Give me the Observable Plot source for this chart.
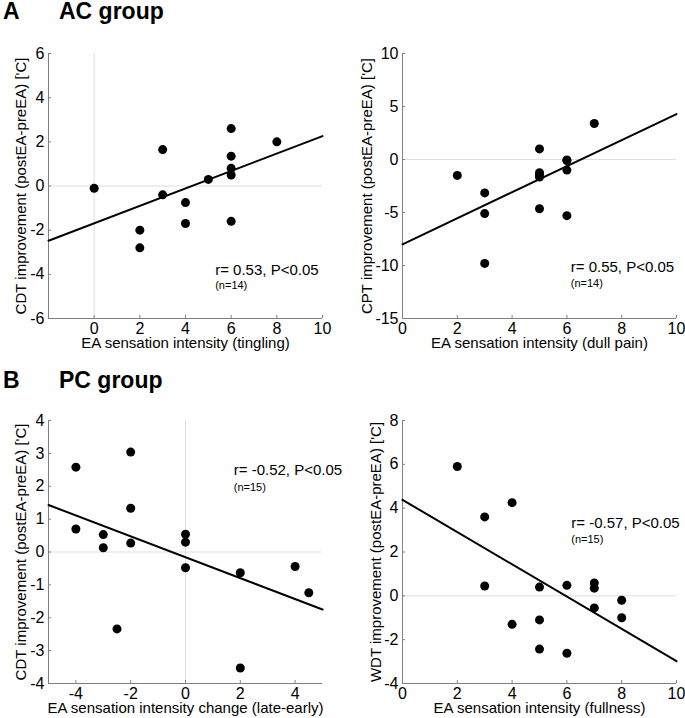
<!DOCTYPE html>
<html><head><meta charset="utf-8">
<script src="https://cdn.jsdelivr.net/npm/d3@7"></script>
<script src="https://cdn.jsdelivr.net/npm/@observablehq/plot@0.6"></script>
<style>
body{margin:0;background:#fff;}
#fig{position:relative;width:685px;height:718px;font-family:"Liberation Sans",Arial,sans-serif;background:#fff;overflow:hidden;}
.panel{position:absolute;}
.hdr{position:absolute;font-weight:bold;font-size:23px;line-height:23px;color:#000;white-space:nowrap;}
</style></head><body><div id="fig"></div>
<script>
// ---- data ----
const groupLetters = ["A", "B"];
const groupNames = ["AC group", "PC group"];

const acTinglingX = [0, 2, 2, 3, 3, 4, 4, 5, 6, 6, 6, 6, 6, 8];
const acTinglingCDT = [-0.1, -2.0, -2.8, 1.65, -0.4, -0.75, -1.7, 0.3, 2.6, 1.35, 0.8, 0.5, -1.6, 2.0];

const acDullPainX = [2, 3, 3, 3, 5, 5, 5, 5, 5, 6, 6, 6, 6, 7];
const acDullPainCPT = [-1.5, -3.15, -5.1, -9.8, 1.0, -1.25, -1.45, -1.65, -4.65, -0.1, -0.05, -1.0, -5.3, 3.4];

const pcChangeX = [-4, -4, -3, -3, -2, -2, -2, -2.5, 0, 0, 0, 2, 2, 4, 4.5];
const pcChangeCDT = [2.58, 0.7, 0.53, 0.13, 3.04, 1.33, 0.27, -2.34, 0.54, 0.3, -0.48, -0.63, -3.53, -0.44, -1.24];

const pcFullnessX = [2, 3, 3, 4, 4, 5, 5, 5, 6, 6, 7, 7, 7, 8, 8];
const pcFullnessWDT = [5.9, 3.6, 0.45, 4.25, -1.3, 0.4, -1.1, -2.43, 0.48, -2.62, 0.59, 0.35, -0.55, -0.2, -1.0];

const fitSlopes = [0.395, 1.228, -0.318, -0.736];
const fitIntercepts = [-1.69, -8.0, -0.16, 4.38];

const statLabels = ["r= 0.53, P<0.05", "r= 0.55, P<0.05", "r= -0.52, P<0.05", "r= -0.57, P<0.05"];
const nLabels = ["(n=14)", "(n=14)", "(n=15)", "(n=15)"];
const statX = [5.3, 6.14, 1.76, 6.16];
const statY = [-4.04, -10.63, 2.33, 3.08];
const nY = [-4.67, -12.05, 1.87, 2.39];

const xLabels = ["EA sensation intensity (tingling)", "EA sensation intensity (dull pain)",
  "EA sensation intensity change (late-early)", "EA sensation intensity (fullness)"];
const yLabels = ["CDT improvement (postEA-preEA) ['C]", "CPT improvement (postEA-preEA) ['C]",
  "CDT improvement (postEA-preEA) ['C]", "WDT improvement (postEA-preEA) ['C]"];

const xDomains = [[-2, 10], [0, 10], [-5, 5], [0, 10]];
const yDomains = [[-6, 6], [-15, 10], [-4, 4], [-4, 8]];
const xTickValues = [[0, 2, 4, 6, 8, 10], [0, 2, 4, 6, 8, 10], [-4, -2, 0, 2, 4], [0, 2, 4, 6, 8, 10]];
const yTickValues = [[-6, -4, -2, 0, 2, 4, 6], [-15, -10, -5, 0, 5, 10], [-4, -3, -2, -1, 0, 1, 2, 3, 4], [-4, -2, 0, 2, 4, 6, 8]];
const xZeroLine = [true, false, true, false];

const seriesX = [acTinglingX, acDullPainX, pcChangeX, pcFullnessX];
const seriesY = [acTinglingCDT, acDullPainCPT, pcChangeCDT, pcFullnessWDT];

// ---- layout ----
const layout = [
  {left: 0, top: 0, w: 342, h: 355, ml: 48, mr: 20, mt: 53, mb: 37, yl: 27},
  {left: 342, top: 0, w: 343, h: 355, ml: 60, mr: 9, mt: 53, mb: 37, yl: 35},
  {left: 0, top: 355, w: 342, h: 363, ml: 48, mr: 20, mt: 65, mb: 35, yl: 27},
  {left: 342, top: 355, w: 343, h: 363, ml: 60, mr: 9, mt: 65, mb: 35, yl: 26}
];
const axisGray = "#808080";
const zeroGray = "#dedede";
const fontFamily = "'Liberation Sans', Arial, sans-serif";

const fig = document.getElementById("fig");

function panel(i) {
  const L = layout[i];
  const pw = L.w - L.ml - L.mr, ph = L.h - L.mt - L.mb;
  const pts = seriesX[i].map((x, j) => ({x, y: seriesY[i][j]}));
  const fit = xDomains[i].map(x => ({x, y: fitSlopes[i] * x + fitIntercepts[i]}));
  const plot = Plot.plot({
    width: L.w, height: L.h,
    marginLeft: L.ml, marginRight: L.mr, marginTop: L.mt, marginBottom: L.mb,
    x: {domain: xDomains[i], axis: null},
    y: {domain: yDomains[i], axis: null},
    style: {fontFamily, background: "transparent", overflow: "visible", color: "black"},
    marks: [
      xZeroLine[i] ? Plot.ruleX([0], {stroke: zeroGray, strokeWidth: 1}) : null,
      Plot.ruleY([0], {stroke: zeroGray, strokeWidth: 1}),
      Plot.ruleX([xDomains[i][0]], {stroke: axisGray}),
      Plot.ruleY([yDomains[i][0]], {stroke: axisGray}),
      Plot.tickX(xTickValues[i], {x: d => d, stroke: axisGray, insetTop: ph - 3}),
      Plot.tickY(yTickValues[i], {y: d => d, stroke: axisGray, insetRight: pw - 3}),
      Plot.text(xTickValues[i], {x: d => d, text: d => String(d), frameAnchor: "bottom", textAnchor: "middle", lineAnchor: "top", dy: 4, fontSize: 16, fill: "black"}),
      Plot.text(yTickValues[i], {y: d => d, text: d => String(d), frameAnchor: "left", textAnchor: "end", lineAnchor: "middle", dx: -4, fontSize: 16, fill: "black"}),
      Plot.text([xLabels[i]], {text: d => d, frameAnchor: "bottom", textAnchor: "middle", lineAnchor: "top", dy: 19, fontSize: 15, fill: "black"}),
      Plot.text([yLabels[i]], {text: d => d, frameAnchor: "left", rotate: -90, dx: -L.yl, textAnchor: "middle", lineAnchor: "middle", fontSize: 15, fill: "black"}),
      Plot.line(fit, {x: "x", y: "y", stroke: "black", strokeWidth: 2}),
      Plot.dot(pts, {x: "x", y: "y", r: 4.5, fill: "black", stroke: null}),
      Plot.text([statLabels[i]], {x: statX[i], y: statY[i], text: d => d, textAnchor: "start", lineAnchor: "bottom", fontSize: 15, fill: "black"}),
      Plot.text([nLabels[i]], {x: statX[i], y: nY[i], text: d => d, textAnchor: "start", lineAnchor: "bottom", fontSize: 11, fill: "black"})
    ]
  });
  plot.classList.add("panel");
  plot.style.left = L.left + "px";
  plot.style.top = L.top + "px";
  fig.appendChild(plot);
}
[0, 1, 2, 3].forEach(panel);

const hdrTops = [0, 369];
groupLetters.forEach((g, k) => {
  const a = document.createElement("div");
  a.className = "hdr"; a.textContent = g;
  a.style.left = "3px"; a.style.top = hdrTops[k] + "px";
  fig.appendChild(a);
  const b = document.createElement("div");
  b.className = "hdr"; b.textContent = groupNames[k];
  b.style.left = "59px"; b.style.top = hdrTops[k] + "px";
  fig.appendChild(b);
});
</script>
</body></html>
